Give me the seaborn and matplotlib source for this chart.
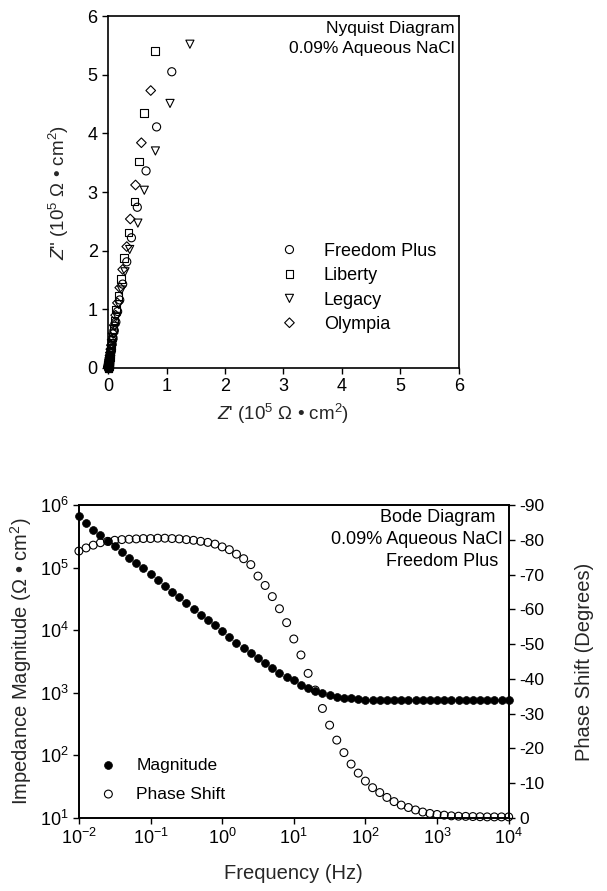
import numpy as np
import matplotlib
matplotlib.use("Agg")
import matplotlib.pyplot as plt
from matplotlib.ticker import NullLocator, FixedLocator
import seaborn as sns

# ---------------- Nyquist data (10^5 ohm cm^2) ----------------
nyq_series = ["Freedom Plus", "Liberty", "Legacy", "Olympia"]

freedom_re = [1.09, 0.83, 0.65, 0.50, 0.40, 0.32, 0.25, 0.20, 0.164, 0.134, 0.107, 0.085,
              0.069, 0.057, 0.047, 0.038, 0.032, 0.0275, 0.0234, 0.0203, 0.0175, 0.0154,
              0.014, 0.0126, 0.0126, 0.0116, 0.0109, 0.0104, 0.0099, 0.0099, 0.0095, 0.009,
              0.0086, 0.0083, 0.0081, 0.008]
freedom_im = [5.05, 4.11, 3.36, 2.74, 2.22, 1.81, 1.43, 1.16, 0.963, 0.783, 0.637, 0.506,
              0.411, 0.334, 0.271, 0.216, 0.175, 0.145, 0.118, 0.096, 0.077, 0.061,
              0.051, 0.041, 0.034, 0.027, 0.022, 0.018, 0.015, 0.012, 0.009, 0.007,
              0.005, 0.003, 0.002, 0.001]

liberty_re = [0.80, 0.62, 0.53, 0.45, 0.35, 0.27, 0.22, 0.18, 0.14, 0.11, 0.09, 0.075,
              0.06, 0.05, 0.042, 0.036, 0.03, 0.026, 0.022, 0.019, 0.017, 0.015, 0.014,
              0.013, 0.012, 0.011, 0.010, 0.0095, 0.009, 0.0088, 0.0085, 0.0083, 0.0082,
              0.0081, 0.008, 0.008]
liberty_im = [5.40, 4.35, 3.52, 2.84, 2.31, 1.88, 1.52, 1.23, 1.00, 0.81, 0.66, 0.53,
              0.43, 0.35, 0.28, 0.23, 0.19, 0.15, 0.12, 0.10, 0.08, 0.065, 0.052,
              0.042, 0.034, 0.027, 0.022, 0.018, 0.014, 0.011, 0.009, 0.007, 0.005,
              0.004, 0.003, 0.002]

legacy_re = [1.40, 1.06, 0.81, 0.62, 0.51, 0.37, 0.29, 0.23, 0.185, 0.15, 0.12, 0.098,
             0.08, 0.066, 0.055, 0.046, 0.039, 0.033, 0.028, 0.024, 0.021, 0.018, 0.016,
             0.014, 0.013, 0.012, 0.011, 0.010, 0.0095, 0.009, 0.0088, 0.0085, 0.0083,
             0.0081, 0.008, 0.008]
legacy_im = [5.52, 4.51, 3.70, 3.03, 2.47, 2.02, 1.64, 1.33, 1.08, 0.88, 0.71, 0.58,
             0.47, 0.38, 0.31, 0.25, 0.20, 0.16, 0.13, 0.105, 0.085, 0.068, 0.055,
             0.044, 0.035, 0.028, 0.022, 0.017, 0.013, 0.010, 0.008, 0.006, 0.004,
             0.003, 0.002, 0.001]

olympia_re = [0.73, 0.57, 0.47, 0.38, 0.32, 0.25, 0.20, 0.16, 0.13, 0.105, 0.085, 0.07,
              0.057, 0.047, 0.039, 0.033, 0.028, 0.024, 0.02, 0.018, 0.016, 0.014, 0.013,
              0.012, 0.011, 0.0105, 0.010, 0.0095, 0.009, 0.0088, 0.0085, 0.0083, 0.0082,
              0.0081, 0.008, 0.008]
olympia_im = [4.73, 3.84, 3.12, 2.54, 2.07, 1.68, 1.37, 1.11, 0.90, 0.73, 0.59, 0.48,
              0.39, 0.32, 0.26, 0.21, 0.17, 0.14, 0.11, 0.09, 0.073, 0.059, 0.048,
              0.039, 0.031, 0.025, 0.020, 0.016, 0.013, 0.010, 0.008, 0.006, 0.004,
              0.003, 0.002, 0.001]

# ---------------- Bode data (Freedom Plus) ----------------
freq_exp = [-2.0, -1.9, -1.8, -1.7, -1.6, -1.5, -1.4, -1.3, -1.2, -1.1,
            -1.0, -0.9, -0.8, -0.7, -0.6, -0.5, -0.4, -0.3, -0.2, -0.1,
            0.0, 0.1, 0.2, 0.3, 0.4, 0.5, 0.6, 0.7, 0.8, 0.9,
            1.0, 1.1, 1.2, 1.3, 1.4, 1.5, 1.6, 1.7, 1.8, 1.9,
            2.0, 2.1, 2.2, 2.3, 2.4, 2.5, 2.6, 2.7, 2.8, 2.9,
            3.0, 3.1, 3.2, 3.3, 3.4, 3.5, 3.6, 3.7, 3.8, 3.9, 4.0]
mag_exp = [5.82, 5.71, 5.61, 5.53, 5.43, 5.34, 5.25, 5.16, 5.07, 4.99,
           4.90, 4.81, 4.71, 4.62, 4.53, 4.44, 4.34, 4.25, 4.17, 4.08,
           3.99, 3.90, 3.80, 3.72, 3.63, 3.56, 3.47, 3.39, 3.32, 3.25,
           3.20, 3.13, 3.07, 3.03, 3.00, 2.96, 2.94, 2.92, 2.91, 2.90,
           2.89, 2.88, 2.88, 2.88, 2.88, 2.88, 2.88, 2.88, 2.88, 2.88,
           2.88, 2.88, 2.88, 2.88, 2.88, 2.88, 2.88, 2.88, 2.88, 2.88, 2.88]
phase_deg = [-76.8, -77.7, -78.5, -79.2, -79.6, -79.9, -80.1, -80.2, -80.3, -80.4,
             -80.4, -80.5, -80.5, -80.4, -80.3, -80.1, -79.9, -79.6, -79.3, -78.8,
             -78.0, -77.2, -75.9, -74.6, -72.9, -69.6, -66.9, -63.7, -60.2, -56.2,
             -51.5, -46.9, -41.6, -36.8, -31.5, -26.7, -22.4, -18.8, -15.5, -12.9,
             -10.6, -8.7, -7.3, -5.9, -4.7, -3.7, -3.0, -2.3, -1.7, -1.3,
             -1.0, -0.8, -0.6, -0.5, -0.45, -0.4, -0.35, -0.3, -0.3, -0.3, -0.3]

bode_notes = ["Bode Diagram", "0.09% Aqueous NaCl", "Freedom Plus"]

freq = 10 ** np.array(freq_exp)
magnitude = 10 ** np.array(mag_exp)

sns.set_style("ticks")
plt.rcParams['font.family'] = ['Liberation Sans', 'DejaVu Sans']
plt.rcParams.update({
    'mathtext.fontset': 'custom',
    'mathtext.rm': 'Liberation Sans',
    'mathtext.it': 'Liberation Sans:italic',
    'mathtext.bf': 'Liberation Sans:bold',
    'axes.unicode_minus': False,
    'axes.linewidth': 1.2,
    'xtick.major.width': 1.0,
    'ytick.major.width': 1.0,
    'xtick.major.size': 4,
    'ytick.major.size': 4,
    'xtick.direction': 'out',
    'ytick.direction': 'out',
    'font.size': 12,
    'xtick.labelsize': 13,
    'ytick.labelsize': 13,
    'axes.edgecolor': 'black',
    'text.color': 'black',
    'xtick.color': 'black',
    'ytick.color': 'black',
})

fig = plt.figure(figsize=(6.07, 8.91), dpi=100)

# ---------------- Nyquist ----------------
ax1 = fig.add_axes([0.178, 0.587, 0.578, 0.395])
nyq_data = [(freedom_re, freedom_im, 'o', 34), (liberty_re, liberty_im, 's', 30),
            (legacy_re, legacy_im, 'v', 34), (olympia_re, olympia_im, 'D', 24)]
for name, (zr, zi, mk, sz) in zip(nyq_series, nyq_data):
    sns.scatterplot(x=zr, y=zi, marker=mk, s=sz, facecolors='none', edgecolor='black',
                    linewidth=0.8, label=name, ax=ax1, clip_on=False, zorder=3)
ax1.set_xlim(0, 6)
ax1.set_ylim(0, 6)
ax1.set_xticks(range(7))
ax1.set_yticks(range(7))
ax1.set_xlabel("$\\mathit{Z}$' (10$^5$ Ω • cm$^2$)", fontsize=13.5, labelpad=5)
ax1.set_ylabel('$\\mathit{Z}$" (10$^5$ Ω • cm$^2$)', fontsize=13.5, labelpad=12)
ax1.text(0.988, 0.985, "Nyquist Diagram\n0.09% Aqueous NaCl", transform=ax1.transAxes,
         ha='right', va='top', multialignment='right', fontsize=12.5, linespacing=1.4)
ax1.legend(loc='upper left', bbox_to_anchor=(0.445, 0.376), frameon=False, fontsize=13,
           handletextpad=0.9, labelspacing=0.41, borderaxespad=0, scatteryoffsets=[0.5])
for s in ax1.spines.values():
    s.set_visible(True)

# ---------------- Bode ----------------
ax2 = fig.add_axes([0.130, 0.082, 0.708, 0.351])
ax3 = ax2.twinx()
sns.scatterplot(x=freq, y=phase_deg, marker='o', s=32, facecolors='none', edgecolor='black',
                linewidth=0.8, ax=ax3, clip_on=False, zorder=2)
sns.scatterplot(x=freq, y=magnitude, marker='o', s=32, color='black', edgecolor='black',
                linewidth=0.5, ax=ax2, clip_on=False, zorder=3)
ax2.set_zorder(ax3.get_zorder() + 1)
ax2.patch.set_visible(False)

ax2.set_xscale('log')
ax2.set_yscale('log')
ax2.set_xlim(1e-2, 1e4)
ax2.set_ylim(1e1, 1e6)
ax2.xaxis.set_major_locator(FixedLocator([1e-2, 1e-1, 1e0, 1e1, 1e2, 1e3, 1e4]))
ax2.yaxis.set_major_locator(FixedLocator([1e1, 1e2, 1e3, 1e4, 1e5, 1e6]))
ax2.xaxis.set_minor_locator(NullLocator())
ax2.yaxis.set_minor_locator(NullLocator())
ax3.set_ylim(0, -90)
ax3.set_yticks(range(-90, 1, 10))
ax3.yaxis.set_minor_locator(NullLocator())
ax3.tick_params(axis='y', labelsize=12.5)

ax2.set_xlabel("Frequency (Hz)", fontsize=14.5, labelpad=11)
ax2.set_ylabel("Impedance Magnitude (Ω • cm$^2$)", fontsize=14.5, labelpad=4)
ax3.set_ylabel("Phase Shift (Degrees)", fontsize=14.5, labelpad=22)

# annotation lines, centres
for txt, xc, yc in zip(bode_notes, [0.835, 0.787, 0.845], [0.96, 0.89, 0.82]):
    ax2.text(xc, yc, txt, transform=ax2.transAxes, ha='center', va='center', fontsize=13)

h_mag = ax2.collections[0]
h_ph = ax3.collections[0]
ax2.legend([h_mag, h_ph], ["Magnitude", "Phase Shift"], loc='lower left',
           bbox_to_anchor=(0.012, 0.03), frameon=False, fontsize=12.5,
           handletextpad=0.6, labelspacing=0.8, borderaxespad=0)
if ax3.get_legend() is not None:
    ax3.get_legend().remove()
for s in list(ax2.spines.values()) + list(ax3.spines.values()):
    s.set_visible(True)

fig.savefig("out.png", dpi=100)
